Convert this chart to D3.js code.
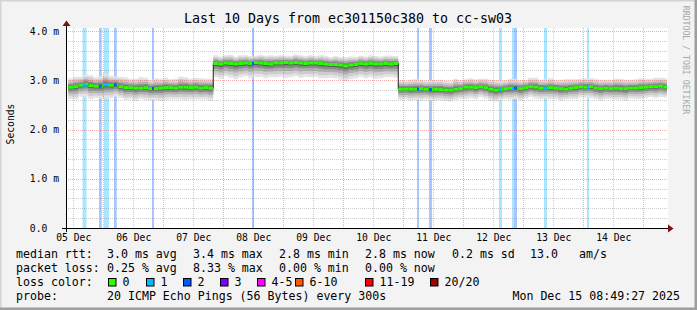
<!DOCTYPE html>
<html><head><meta charset="utf-8">
<script src="https://cdn.jsdelivr.net/npm/d3@7"></script>
<style>
html,body{margin:0;padding:0;background:#f3f3f3;}
svg{display:block;}
text{font-family:"DejaVu Sans Mono",monospace;}
</style></head>
<body>
<svg id="chart" width="697" height="310"></svg>
<script>
// ---------- DATA ----------
const titleText = "Last 10 Days from ec301150c380 to cc-sw03";
const startTime = new Date(2025, 11, 5, 9, 30);
const endTime = new Date(2025, 11, 15, 9, 30);
const yTickValues = [0, 1, 2, 3, 4];
const yTickLabels = ["0.0  ", "1.0 m", "2.0 m", "3.0 m", "4.0 m"];
const dayLabelDates = ["2025-12-05","2025-12-06","2025-12-07","2025-12-08","2025-12-09",
  "2025-12-10","2025-12-11","2025-12-12","2025-12-13","2025-12-14"];

// median RTT (ms), one value every 2 hours from start
const medianRtt = [
  2.86,2.87,2.90,2.92,2.89,2.88,2.88,2.91,2.90,2.91,2.87,2.85,2.85,2.84,2.84,2.85,2.83,2.83,2.84,2.85,
  2.85,2.84,2.86,2.86,2.85,2.86,2.84,2.85,2.84,
  3.34,3.33,3.35,3.34,3.33,3.34,3.35,3.34,3.36,3.35,3.34,3.33,3.35,3.35,3.36,3.35,3.36,3.35,3.34,3.35,
  3.35,3.34,3.33,3.32,3.32,3.31,3.29,3.31,3.32,3.34,3.33,3.34,3.33,3.33,3.34,3.33,3.34,
  2.82,2.82,2.82,2.82,2.83,2.82,2.81,2.82,2.81,2.80,2.80,2.82,2.83,2.86,2.86,2.85,2.87,2.85,2.82,2.80,
  2.81,2.83,2.84,2.84,2.83,2.85,2.87,2.86,2.84,2.84,2.85,2.84,2.83,2.82,2.84,2.85,2.87,2.86,2.87,2.84,
  2.83,2.84,2.83,2.84,2.83,2.83,2.84,2.84,2.85,2.86,2.87,2.87,2.88,2.86
];
// smoke extent above median (ms)
const smokeUp = [
  0.18,0.20,0.17,0.19,0.21,0.18,0.20,0.22,0.19,0.17,0.20,0.21,0.18,0.19,0.22,0.20,0.18,0.21,0.19,0.20,
  0.17,0.19,0.21,0.20,0.18,0.19,0.20,0.18,0.19,
  0.17,0.15,0.16,0.18,0.15,0.17,0.16,0.15,0.14,0.17,0.16,0.18,0.15,0.16,0.14,0.15,0.17,0.16,0.15,0.16,
  0.14,0.17,0.16,0.15,0.17,0.16,0.18,0.17,0.15,0.16,0.15,0.17,0.16,0.15,0.16,0.17,0.15,
  0.18,0.17,0.19,0.20,0.18,0.17,0.19,0.18,0.20,0.19,0.18,0.21,0.17,0.16,0.18,0.17,0.16,0.18,0.19,0.20,
  0.18,0.17,0.19,0.18,0.17,0.16,0.18,0.19,0.17,0.18,0.19,0.17,0.18,0.20,0.18,0.17,0.16,0.18,0.17,0.19,
  0.18,0.17,0.18,0.19,0.20,0.18,0.17,0.18,0.19,0.17,0.16,0.18,0.17,0.18
];
// smoke extent below median (ms)
const smokeDown = [
  0.24,0.26,0.23,0.25,0.27,0.24,0.25,0.28,0.26,0.24,0.23,0.25,0.24,0.26,0.22,0.25,0.24,0.23,0.26,0.25,
  0.24,0.23,0.25,0.26,0.24,0.25,0.23,0.24,0.25,
  0.28,0.30,0.27,0.29,0.31,0.28,0.27,0.30,0.29,0.28,0.30,0.27,0.29,0.28,0.31,0.29,0.28,0.30,0.27,0.29,
  0.28,0.30,0.29,0.27,0.28,0.30,0.31,0.29,0.28,0.27,0.29,0.28,0.30,0.29,0.28,0.27,0.29,
  0.22,0.21,0.23,0.22,0.24,0.21,0.22,0.23,0.21,0.22,0.23,0.22,0.21,0.24,0.22,0.23,0.21,0.22,0.24,0.23,
  0.22,0.21,0.23,0.22,0.24,0.22,0.21,0.23,0.22,0.21,0.23,0.22,0.24,0.21,0.22,0.23,0.22,0.21,0.23,0.22,
  0.24,0.22,0.21,0.23,0.22,0.24,0.21,0.22,0.23,0.22,0.21,0.23,0.22,0.21
];
// packet loss events: start, end, lost pings (of 20)
const lossStart = ["2025-12-05 15:42","2025-12-05 22:18","2025-12-06 00:18","2025-12-06 04:18","2025-12-06 19:30",
  "2025-12-08 11:30","2025-12-11 05:30","2025-12-11 10:18","2025-12-12 14:18","2025-12-12 19:30",
  "2025-12-12 20:18","2025-12-13 08:18","2025-12-14 01:30"];
const lossEnd = ["2025-12-05 17:18","2025-12-05 23:24","2025-12-06 02:18","2025-12-06 05:24","2025-12-06 20:18",
  "2025-12-08 12:18","2025-12-11 06:18","2025-12-11 11:30","2025-12-12 15:30","2025-12-12 20:18",
  "2025-12-12 21:30","2025-12-13 09:30","2025-12-14 02:18"];
const lossCount = [1,2,1,2,2,2,2,2,1,1,2,1,1];

const lossLabels = ["0","1","2","3","4-5","6-10","11-19","20/20"];
const lossColors = ["#26ff00","#00b8ff","#0059ff","#7e00ff","#ff00ff","#ff5500","#ff0000","#a10000"];

const legendRtt = ["3.0 ms avg","3.4 ms max","2.8 ms min","2.8 ms now","0.2 ms sd","13.0","am/s"];
const legendLoss = ["0.25 % avg","8.33 % max","0.00 % min","0.00 % now"];
const probeText = "20 ICMP Echo Pings (56 Bytes) every 300s";
const dateText = "Mon Dec 15 08:49:27 2025";

// ---------- CHART ----------
const svg = d3.select("#chart");
const W = 697, H = 310;
const L = 66, R = 668, T = 28, B = 228;
const x = d3.scaleTime().domain([startTime, endTime]).range([67, 667]);
const y = d3.scaleLinear().domain([0, 4]).range([B, 31]);
const parse = d3.timeParse("%Y-%m-%d %H:%M");

// background & frame
svg.append("rect").attr("width", W).attr("height", H).attr("fill", "#f3f3f3");
svg.append("path").attr("d", `M0,${H} V0 H${W}`).attr("fill","none").attr("stroke","#d4d4d4").attr("stroke-width",3);
svg.append("path").attr("d", `M0,${H-1} H${W-1} V0`).attr("fill","none").attr("stroke","#9e9e9e").attr("stroke-width",3);
svg.append("rect").attr("x", L).attr("y", T).attr("width", R - L).attr("height", B - T).attr("fill", "#fff");

// data rows
const times = d3.timeHour.every(2).range(startTime, endTime);
const rows = medianRtt.map((m, i) => ({t: times[i], m, up: smokeUp[i], dn: smokeDown[i]}));
const rowsExt = rows.concat([{...rows[rows.length-1], t: endTime}]);

// loss bars
const losses = lossStart.map((s, i) => ({s: parse(s), e: parse(lossEnd[i]), c: lossCount[i]}));
const lossIdx = c => c <= 3 ? c : c <= 5 ? 4 : c <= 10 ? 5 : c <= 19 ? 6 : 7;
svg.append("g").selectAll("rect").data(losses).join("rect")
  .attr("x", d => x(d.s)).attr("width", d => Math.max(1, x(d.e) - x(d.s)))
  .attr("y", T).attr("height", B - T)
  .attr("fill", d => lossColors[lossIdx(d.c)]).attr("opacity", 0.34);

// smoke
const layers = [
  {f: 1.0, c: "#e4e4e4"}, {f: 0.78, c: "#cdcdcd"}, {f: 0.56, c: "#b0b0b0"},
  {f: 0.36, c: "#8a8a8a"}, {f: 0.18, c: "#5c5c5c"}
];
layers.forEach(l => {
  svg.append("path").datum(rowsExt)
    .attr("fill", l.c)
    .attr("d", d3.area().curve(d3.curveStepAfter)
      .x(d => x(d.t)).y0(d => y(d.m - d.dn * l.f)).y1(d => y(d.m + d.up * l.f)));
});

// grid
const gGrid = svg.append("g").attr("shape-rendering", "crispEdges");
const minorV = d3.timeHour.every(12).range(startTime, endTime).filter(d => d.getHours() !== 0);
const majorV = d3.timeDay.range(startTime, endTime);
gGrid.selectAll(".mv").data(minorV).join("line")
  .attr("x1", d => Math.round(x(d)) + 0.5).attr("x2", d => Math.round(x(d)) + 0.5)
  .attr("y1", T).attr("y2", B).attr("stroke", "rgba(143,143,143,0.45)").attr("stroke-dasharray", "1,1");
gGrid.selectAll(".Mv").data(majorV).join("line")
  .attr("x1", d => Math.round(x(d)) + 0.5).attr("x2", d => Math.round(x(d)) + 0.5)
  .attr("y1", T).attr("y2", B).attr("stroke", "rgba(222,80,80,0.45)").attr("stroke-dasharray", "1,1");
const minorH = d3.range(1, 20).map(k => k * 0.2).filter(v => Math.abs(v - Math.round(v)) > 1e-6);
gGrid.selectAll(".mh").data(minorH).join("line")
  .attr("y1", d => Math.round(y(d)) + 0.5).attr("y2", d => Math.round(y(d)) + 0.5)
  .attr("x1", L).attr("x2", R).attr("stroke", "rgba(143,143,143,0.45)").attr("stroke-dasharray", "1,1");
gGrid.selectAll(".Mh").data(yTickValues.filter(v => v > 0)).join("line")
  .attr("y1", d => Math.round(y(d)) + 0.5).attr("y2", d => Math.round(y(d)) + 0.5)
  .attr("x1", L).attr("x2", R).attr("stroke", "rgba(222,80,80,0.45)").attr("stroke-dasharray", "1,1");

// median: thin dark connecting line then loss-coloured thick segments
svg.append("path").datum(rowsExt).attr("fill", "none").attr("stroke", "#202020").attr("stroke-width", 1)
  .attr("d", d3.line().curve(d3.curveStepAfter).x(d => x(d.t)).y(d => y(d.m)));
svg.append("g").selectAll("line").data(rows).join("line")
  .attr("x1", d => x(d.t)).attr("x2", (d, i) => x(i + 1 < rows.length ? rows[i+1].t : endTime))
  .attr("y1", d => y(d.m)).attr("y2", d => y(d.m))
  .attr("stroke", lossColors[0]).attr("stroke-width", 3);
const bis = d3.bisector(d => d.t).right;
svg.append("g").selectAll("line").data(losses).join("line")
  .attr("x1", d => x(d.s)).attr("x2", d => Math.max(x(d.e), x(d.s) + 2))
  .attr("y1", d => y(rows[Math.max(0, bis(rows, d.s) - 1)].m))
  .attr("y2", d => y(rows[Math.max(0, bis(rows, d.s) - 1)].m))
  .attr("stroke", d => lossColors[lossIdx(d.c)]).attr("stroke-width", 3);

// axes
const noonDates = dayLabelDates.map(s => d3.timeHour.offset(d3.timeParse("%Y-%m-%d")(s), 12));
const xAxis = svg.append("g").attr("transform", `translate(0,${B})`)
  .call(d3.axisBottom(x).tickValues(noonDates).tickFormat(d3.timeFormat("%d %b")).tickSize(0).tickPadding(6));
xAxis.select(".domain").remove();
xAxis.selectAll("text").attr("font-family", "DejaVu Sans Mono").attr("font-size", "9.7px").attr("fill", "#000");

const yAxis = svg.append("g").attr("transform", `translate(${L},0)`)
  .call(d3.axisLeft(y).tickValues(yTickValues).tickFormat((d, i) => yTickLabels[i]).tickSize(0).tickPadding(7));
yAxis.select(".domain").remove();
yAxis.selectAll("text").attr("font-family", "DejaVu Sans Mono").attr("font-size", "9.7px")
  .attr("fill", "#000").style("white-space", "pre");

svg.append("line").attr("x1", 62).attr("x2", 668).attr("y1", B + 0.5).attr("y2", B + 0.5).attr("stroke", "#000");
svg.append("line").attr("x1", L + 0.5).attr("x2", L + 0.5).attr("y1", B + 4).attr("y2", 24).attr("stroke", "#000");
svg.append("path").attr("d", `M668,${B-3.5} L673.5,${B+0.5} L668,${B+4.5} Z`).attr("fill", "#7f1010");
svg.append("path").attr("d", `M${L-3.5},26 L${L+0.5},20.5 L${L+4.5},26 Z`).attr("fill", "#7f1010");

// title, y label, watermark
svg.append("text").attr("x", 348).attr("y", 23).attr("text-anchor", "middle")
  .attr("font-size", "13.3px").text(titleText);
svg.append("text").attr("transform", "translate(13.5,124) rotate(-90)").attr("text-anchor", "middle")
  .attr("font-family", "DejaVu Sans").attr("font-size", "9.7px").text("Seconds");
svg.append("text").attr("transform", "translate(683,60) rotate(90)").attr("text-anchor", "middle")
  .attr("font-size", "8.2px").attr("fill", "#a8a8a8").text("RRDTOOL / TOBI OETIKER");

// legend
const fs = "11.6px";
const row = (yy, label) => svg.append("text").attr("x", 16).attr("y", yy).attr("font-size", fs).text(label);
row(257.5, "median rtt:");
row(271.8, "packet loss:");
row(286, "loss color:");
row(300.3, "probe:");
const rttX = [107, 193, 279, 365, 452, 530, 579];
legendRtt.forEach((t, i) => svg.append("text").attr("x", rttX[i]).attr("y", 257.5).attr("font-size", fs).text(t));
const lossX = [107, 193, 279, 365];
legendLoss.forEach((t, i) => svg.append("text").attr("x", lossX[i]).attr("y", 271.8).attr("font-size", fs).text(t));
const boxX = [108, 146, 183, 220, 257, 295, 365, 430];
lossLabels.forEach((t, i) => {
  svg.append("rect").attr("x", boxX[i] + 0.5).attr("y", 278.5).attr("width", 7.5).attr("height", 7.5)
    .attr("fill", lossColors[i]).attr("stroke", "#000").attr("stroke-width", 1);
  svg.append("text").attr("x", boxX[i] + 14.5).attr("y", 286).attr("font-size", fs).text(t);
});
svg.append("text").attr("x", 107).attr("y", 300.3).attr("font-size", fs).text(probeText);
svg.append("text").attr("x", 680).attr("y", 300.3).attr("text-anchor", "end").attr("font-size", fs).text(dateText);
</script>
</body></html>
